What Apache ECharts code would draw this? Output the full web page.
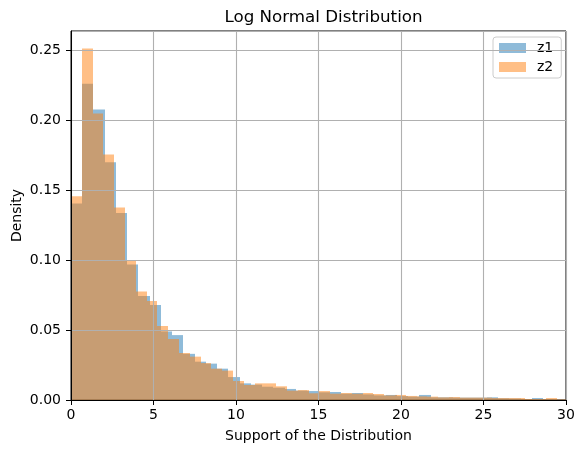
<!DOCTYPE html>
<html>
<head>
<meta charset="utf-8">
<script src="https://cdn.jsdelivr.net/npm/echarts@6/dist/echarts.min.js"></script>
<style>
html,body{margin:0;padding:0;background:#fff;}
#chart{width:585px;height:453px;}
</style>
</head>
<body>
<div id="chart"></div>
<script>
// Histogram bins (density values)
const z1Start = 0;
const z1BinWidth = 0.6812;
const z1Density = [
  0.1405, 0.2260, 0.2076, 0.1700, 0.1336, 0.0969, 0.0743, 0.0679, 0.0490, 0.0464,
  0.0330, 0.0274, 0.0260, 0.0224, 0.0164, 0.0119, 0.0110, 0.0095, 0.0088, 0.0079,
  0.0067, 0.0064, 0.0055, 0.0057, 0.0045, 0.0050, 0.0040, 0.0033, 0.0036, 0.0028,
  0.0024, 0.0036, 0.0019, 0.0019, 0.0017, 0.0017, 0.0017, 0.0019, 0.0012, 0.0010,
  0.0005, 0.0014, 0.0007, 0.0005
];
const z2Start = 0;
const z2BinWidth = 0.6545;
const z2Density = [
  0.1457, 0.2512, 0.2048, 0.1755, 0.1376, 0.0993, 0.0776, 0.0707, 0.0529, 0.0436,
  0.0336, 0.0310, 0.0264, 0.0224, 0.0210, 0.0136, 0.0107, 0.0119, 0.0119, 0.0098,
  0.0067, 0.0071, 0.0048, 0.0064, 0.0045, 0.0050, 0.0045, 0.0050, 0.0043, 0.0033,
  0.0036, 0.0029, 0.0026, 0.0024, 0.0019, 0.0021, 0.0017, 0.0017, 0.0017, 0.0014,
  0.0014, 0.0014, 0.0007, 0.0007, 0.0014, 0.0005
];
const seriesNames = ['z1', 'z2'];
const xTicks = [0, 5, 10, 15, 20, 25, 30];
const yTickStep = 0.05;
const yMax = 0.2638;
const titleText = 'Log Normal Distribution';
const xLabel = 'Support of the Distribution';
const yLabel = 'Density';

function toBins(start, width, vals) {
  return vals.map((v, i) => [start + i * width, start + (i + 1) * width, v]);
}

function renderItem(params, api) {
  const x0 = api.value(0), x1 = api.value(1), v = api.value(2);
  const p0 = api.coord([x0, v]);
  const p1 = api.coord([x1, 0]);
  const left = Math.round(p0[0]);
  const right = Math.round(p1[0]);
  return {
    type: 'rect',
    shape: { x: left, y: p0[1], width: right - left, height: p1[1] - p0[1] },
    style: api.style()
  };
}

const FONT = 'DejaVu Sans';
const chart = echarts.init(document.getElementById('chart'), null, { renderer: 'canvas' });
chart.setOption({
  animation: false,
  backgroundColor: '#ffffff',
  textStyle: { fontFamily: FONT },
  title: {
    text: titleText,
    left: 318.5,
    top: 4,
    textAlign: 'center',
    textStyle: { fontFamily: FONT, fontSize: 16.7, fontWeight: 'normal', color: '#000' }
  },
  legend: {
    data: seriesNames,
    orient: 'vertical',
    left: 493,
    top: 37,
    itemWidth: 27,
    itemHeight: 10,
    itemGap: 5,
    padding: [4, 8, 4, 6],
    backgroundColor: 'rgba(255,255,255,0.8)',
    borderColor: '#cccccc',
    borderWidth: 1,
    borderRadius: 3,
    icon: 'rect',
    textStyle: { fontFamily: FONT, fontSize: 14, color: '#000', padding: [0, 0, 0, 6] }
  },
  grid: {
    left: 71, right: 19, top: 31, bottom: 53,
    containLabel: false, outerBoundsMode: 'none',
    show: true, borderColor: '#000', borderWidth: 1, backgroundColor: 'transparent'
  },
  xAxis: {
    type: 'value',
    min: xTicks[0],
    max: xTicks[xTicks.length - 1],
    interval: xTicks[1] - xTicks[0],
    z: 10,
    name: xLabel,
    nameLocation: 'middle',
    nameGap: 29,
    nameTextStyle: { fontFamily: FONT, fontSize: 14, color: '#000' },
    axisLine: { show: true, lineStyle: { color: '#000', width: 1 } },
    axisTick: { show: true, length: 5, lineStyle: { color: '#000', width: 1 } },
    axisLabel: { fontFamily: FONT, fontSize: 14, color: '#000', margin: 8 },
    splitLine: { show: true, lineStyle: { color: '#b0b0b0', width: 1.1 } }
  },
  yAxis: {
    type: 'value',
    min: 0,
    max: yMax,
    interval: yTickStep,
    z: 10,
    name: yLabel,
    nameLocation: 'middle',
    nameGap: 47,
    nameMoveOverlap: false,
    nameTextStyle: { fontFamily: FONT, fontSize: 14, color: '#000' },
    axisLine: { show: true, lineStyle: { color: '#000', width: 1 } },
    axisTick: { show: true, length: 5, lineStyle: { color: '#000', width: 1 } },
    axisLabel: {
      fontFamily: FONT, fontSize: 14, color: '#000', margin: 10, showMaxLabel: false,
      formatter: v => (Math.abs(v / yTickStep - Math.round(v / yTickStep)) < 1e-6 ? v.toFixed(2) : '')
    },
    splitLine: { show: true, lineStyle: { color: '#b0b0b0', width: 1.1 } }
  },
  series: [
    {
      name: seriesNames[0],
      type: 'custom',
      renderItem: renderItem,
      clip: true,
      encode: { x: [0, 1], y: 2 },
      itemStyle: { color: 'rgba(31,119,180,0.5)' },
      data: toBins(z1Start, z1BinWidth, z1Density)
    },
    {
      name: seriesNames[1],
      type: 'custom',
      renderItem: renderItem,
      clip: true,
      encode: { x: [0, 1], y: 2 },
      itemStyle: { color: 'rgba(255,127,14,0.5)' },
      data: toBins(z2Start, z2BinWidth, z2Density)
    }
  ]
});
</script>
</body>
</html>
